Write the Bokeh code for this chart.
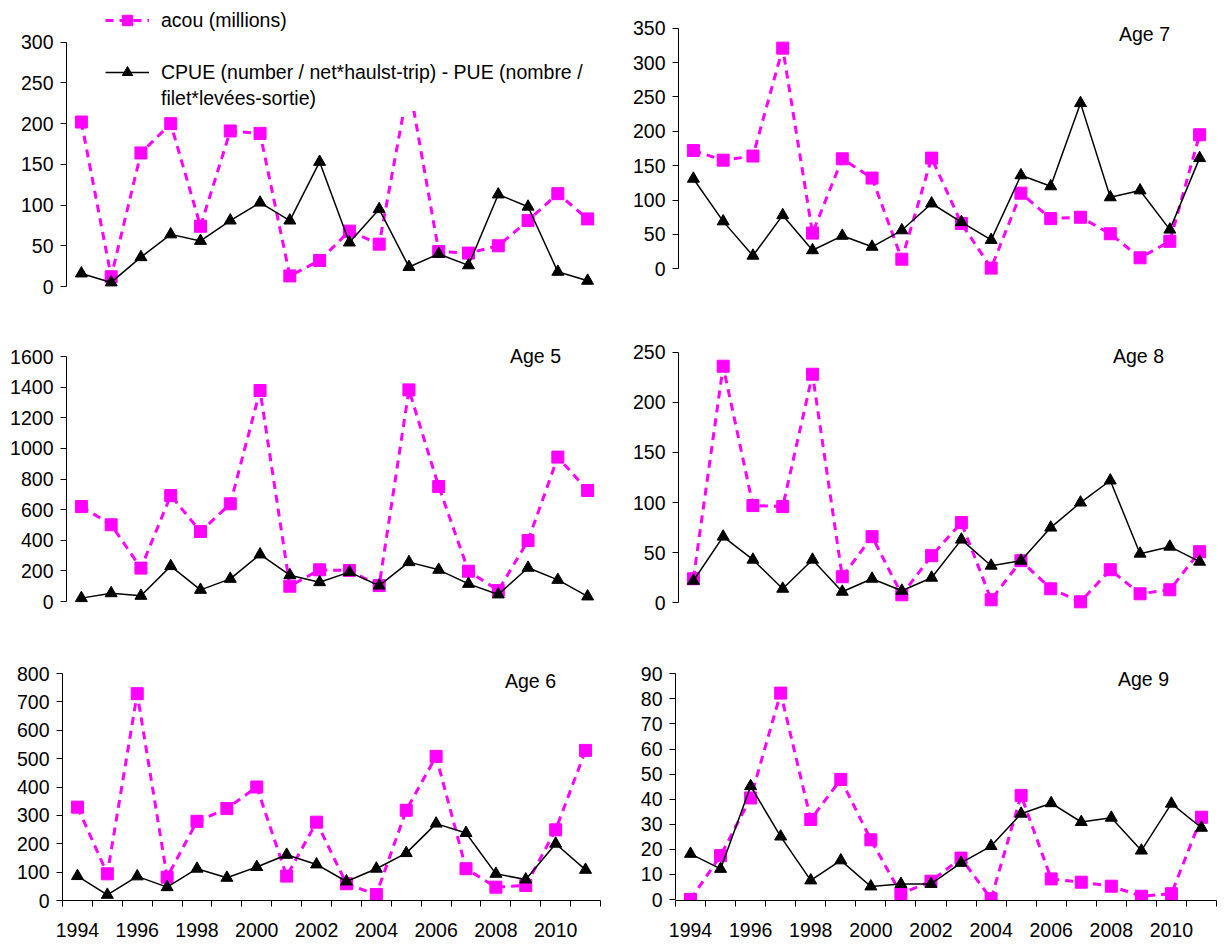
from bokeh.plotting import figure
from bokeh.models import Range1d, FixedTicker, Legend, LegendItem, Label
from bokeh.layouts import column, row
from bokeh.core.properties import value
from bokeh.embed import file_html
from bokeh.resources import INLINE

# ---------------- data ----------------
years = list(range(1994, 2012))
x_label_years = [1994, 1996, 1998, 2000, 2002, 2004, 2006, 2008, 2010]
x_bin_edges = [1993.5 + i for i in range(19)]

age4_acou = [202, 12, 164, 200, 74, 191, 188, 13, 32, 68, 52, 250, 43, 41, 50, 81, 114, 83]
age4_cpue = [16, 5, 36, 64, 56, 81, 103, 81, 153, 54, 95, 24, 40, 26, 113, 98, 18, 7]
age4_ticks = [0, 50, 100, 150, 200, 250, 300]

age7_acou = [172, 158, 164, 321, 52, 160, 132, 14, 161, 66, 1, 110, 73, 75, 51, 16, 40, 195]
age7_cpue = [131, 69, 19, 78, 27, 48, 32, 56, 95, 68, 42, 136, 120, 241, 104, 114, 57, 161]
age7_ticks = [0, 50, 100, 150, 200, 250, 300, 350]

age5_acou = [620, 501, 218, 692, 457, 638, 1378, 100, 207, 202, 104, 1382, 751, 198, 72, 398, 943, 725]
age5_cpue = [22, 54, 37, 231, 76, 148, 307, 172, 126, 192, 104, 257, 207, 115, 46, 220, 141, 33]
age5_ticks = [0, 200, 400, 600, 800, 1000, 1200, 1400, 1600]

age8_acou = [24, 236, 97, 96, 228, 26, 66, 8, 47, 80, 3, 42, 14, 1, 33, 9, 13, 51]
age8_cpue = [22, 66, 43, 14, 43, 11, 24, 12, 25, 63, 37, 42, 75, 100, 122, 49, 56, 41]
age8_ticks = [0, 50, 100, 150, 200, 250]

age6_acou = [329, 94, 729, 82, 279, 324, 400, 86, 276, 59, 21, 318, 508, 112, 47, 53, 249, 529]
age6_cpue = [86, 20, 85, 47, 112, 80, 118, 161, 127, 67, 112, 167, 271, 238, 94, 74, 200, 108]
age6_ticks = [0, 100, 200, 300, 400, 500, 600, 700, 800]

age9_acou = [0, 17.5, 40.5, 82.3, 31.9, 47.9, 23.8, 2.3, 7.3, 16.5, 0.3, 41.5, 8.2, 6.9, 5.3, 1.3, 2.3, 32.8]
age9_cpue = [18.2, 12.2, 45.2, 25.1, 7.6, 15.6, 5.2, 6.2, 6.2, 14.6, 21.3, 34.2, 38.4, 30.9, 32.6, 19.5, 38.2, 28.6]
age9_ticks = [0, 10, 20, 30, 40, 50, 60, 70, 80, 90]

panel_titles = ["Age 4", "Age 7", "Age 5", "Age 8", "Age 6", "Age 9"]
legend_labels = ["acou (millions)",
                 "CPUE (number / net*haulst-trip) - PUE (nombre /",
                 "filet*levées-sortie)"]

# ---------------- style ----------------
FONT = "Liberation Sans"
FS = "19.5px"
MAGENTA = "#FF00FF"


def make_panel(acou, cpue, yticks, title, fig, frame, ypx, title_px,
               with_legend=False, with_xaxis=False):
    fx0, fy0, fw, fh = fig
    fl, fr, ft, fb = frame
    y0px, ytoppx = ypx
    ymax = yticks[-1]
    ppu = (y0px - ytoppx) / ymax
    y_start = -(fb - y0px) / ppu
    y_end = (y0px - ft) / ppu

    p = figure(width=fw, height=fh,
               x_range=Range1d(1993.5, 2011.5),
               y_range=Range1d(y_start, y_end),
               output_backend="svg", toolbar_location=None,
               x_axis_location="below" if with_xaxis else None,
               min_border_left=int(fl - fx0), min_border_right=int(fx0 + fw - fr),
               min_border_top=int(ft - fy0), min_border_bottom=int(fy0 + fh - fb))
    p.outline_line_color = None
    p.grid.visible = False
    p.background_fill_color = "white"
    p.border_fill_color = "white"

    ya = p.yaxis[0]
    ya.ticker = FixedTicker(ticks=yticks, minor_ticks=[])
    ya.bounds = (0, ymax)
    ya.axis_line_color = "black"
    ya.axis_line_width = 1
    ya.major_tick_line_color = "black"
    ya.major_tick_out = 6
    ya.major_tick_in = 0
    ya.minor_tick_line_color = None
    ya.major_label_standoff = 7
    ya.major_label_text_font = FONT
    ya.major_label_text_font_size = FS
    ya.major_label_text_color = "black"

    if with_xaxis:
        xa = p.xaxis[0]
        xa.ticker = FixedTicker(ticks=x_label_years, minor_ticks=x_bin_edges)
        xa.bounds = (1993.5, 2011.5)
        xa.axis_line_color = "black"
        xa.axis_line_width = 1
        xa.major_tick_line_color = None
        xa.major_tick_out = 6
        xa.major_tick_in = 0
        xa.minor_tick_line_color = "black"
        xa.minor_tick_out = 6
        xa.minor_tick_in = 0
        xa.major_label_standoff = 16
        xa.major_label_text_font = FONT
        xa.major_label_text_font_size = FS
        xa.major_label_text_color = "black"

    a_line = p.line(years, acou, line_color=MAGENTA, line_width=3, line_dash="8 6")
    a_pts = p.scatter(years, acou, marker="square", size=12,
                      fill_color=MAGENTA, line_color=MAGENTA)
    c_line = p.line(years, cpue, line_color="black", line_width=1.5)
    c_pts = p.scatter(years, cpue, marker="triangle", size=12,
                      fill_color="black", line_color="black")

    if with_legend:
        box_left, box_bottom = 105, 111
        legend = Legend(
            items=[
                LegendItem(label=value(legend_labels[0]), renderers=[a_line, a_pts]),
                LegendItem(label=value(""), renderers=[]),
                LegendItem(label=value(legend_labels[1]), renderers=[c_line, c_pts]),
                LegendItem(label=value(legend_labels[2]), renderers=[]),
            ],
            location=(box_left - fl, fb - box_bottom),
            padding=2, spacing=0, margin=0,
            label_height=26, glyph_height=26, glyph_width=44, label_standoff=12,
            background_fill_color="white", background_fill_alpha=1.0,
            border_line_color=None,
            label_text_font=FONT, label_text_font_size=FS, label_text_color="black",
        )
        p.add_layout(legend)

    cx, cy = title_px
    tx = 1993.5 + (cx - fl) / (fr - fl) * 18
    ty = (y0px - cy) / ppu
    p.add_layout(Label(x=tx, y=ty, text=title, text_align="center",
                       text_baseline="middle", text_font=FONT,
                       text_font_size=FS, text_color="black"))
    return p


p4 = make_panel(age4_acou, age4_cpue, age4_ticks, panel_titles[0],
                fig=(0, 0, 612, 300), frame=(66, 602, 0, 296),
                ypx=(286, 41.7), title_px=(552, 22), with_legend=True)
p7 = make_panel(age7_acou, age7_cpue, age7_ticks, panel_titles[1],
                fig=(612, 0, 613, 300), frame=(678, 1214, 0, 296),
                ypx=(268.3, 27.7), title_px=(1144, 33))
p5 = make_panel(age5_acou, age5_cpue, age5_ticks, panel_titles[2],
                fig=(0, 300, 612, 320), frame=(66, 602, 300, 614),
                ypx=(601, 356), title_px=(535, 355))
p8 = make_panel(age8_acou, age8_cpue, age8_ticks, panel_titles[3],
                fig=(612, 300, 613, 320), frame=(678, 1214, 300, 614),
                ypx=(602.3, 351.7), title_px=(1138, 355))
p6 = make_panel(age6_acou, age6_cpue, age6_ticks, panel_titles[4],
                fig=(0, 620, 612, 325), frame=(62, 600, 620, 900),
                ypx=(900, 673), title_px=(530, 680), with_xaxis=True)
p9 = make_panel(age9_acou, age9_cpue, age9_ticks, panel_titles[5],
                fig=(612, 620, 613, 325), frame=(675, 1216, 620, 900),
                ypx=(899, 673.3), title_px=(1143, 678), with_xaxis=True)

layout = column(row(p4, p7, spacing=0), row(p5, p8, spacing=0),
                row(p6, p9, spacing=0), spacing=0)

open("out.html", "w").write(file_html(layout, INLINE))
